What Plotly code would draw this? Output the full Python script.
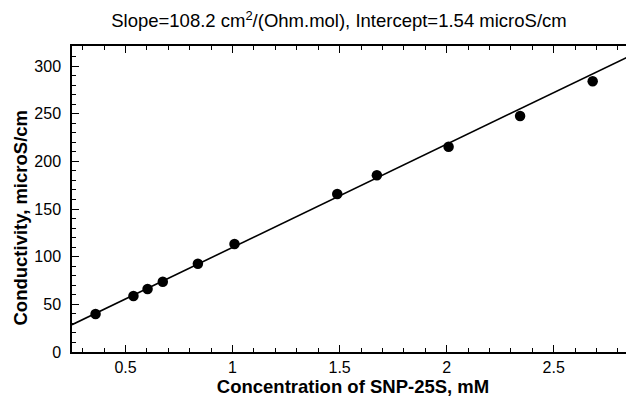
import plotly.graph_objects as go

concentration = [0.360, 0.537, 0.603, 0.674, 0.838, 1.009, 1.489, 1.674, 2.009, 2.343, 2.682]
conductivity = [39.9, 58.7, 66.1, 73.7, 92.6, 113.3, 165.7, 185.4, 215.4, 247.6, 284.0]
slope = 108.2
intercept = 1.54
x_range = [0.25, 2.875]
y_range = [0, 321]

fit_x = [x_range[0], x_range[1]]
fit_y = [intercept + slope * v for v in fit_x]

fig = go.Figure()
fig.add_trace(go.Scatter(x=fit_x, y=fit_y, mode="lines",
                         line=dict(color="black", width=1.6), showlegend=False))
fig.add_trace(go.Scatter(x=concentration, y=conductivity, mode="markers",
                         marker=dict(color="black", size=10.5), showlegend=False))

# page body has an 8px default margin, so the figure is sized/placed to compensate
W, H = 626, 394
font = "Liberation Sans, Arial, sans-serif"
fig.update_layout(
    width=W, height=H,
    margin=dict(l=64, r=0, t=38, b=50),
    paper_bgcolor="white", plot_bgcolor="white",
    font=dict(family=font, color="black", size=16),
    title=dict(text="Slope=108.2 cm<sup>2</sup>/(Ohm.mol), Intercept=1.54 microS/cm",
               x=0.475, xref="paper", y=1 - 13 / H, yref="container",
               xanchor="center", yanchor="middle",
               font=dict(family=font, size=18.5, color="black")),
)
fig.add_annotation(
    text="<b>Conductivity, microS/cm</b>", textangle=-90,
    xref="paper", yref="paper", x=0, y=0.4395, xshift=-51,
    xanchor="center", yanchor="middle", showarrow=False,
    font=dict(family=font, size=18.5, color="black"),
)
fig.update_xaxes(
    range=x_range, showgrid=False, zeroline=False, automargin=False,
    showline=True, linecolor="black", linewidth=1.5, mirror="ticks",
    ticks="inside", ticklen=7, tickwidth=1, tickcolor="black",
    tickvals=[0.5, 1, 1.5, 2, 2.5], ticktext=["0.5", "1", "1.5", "2", "2.5"],
    tickfont=dict(size=16),
    minor=dict(ticks="inside", ticklen=4, dtick=0.1, tickcolor="black", showgrid=False),
    title=dict(text="<b>Concentration of SNP-25S, mM</b>", font=dict(size=18.5), standoff=4),
)
fig.update_yaxes(
    range=y_range, showgrid=False, zeroline=False, automargin=False,
    showline=True, linecolor="black", linewidth=1.5, mirror=False,
    ticks="inside", ticklen=7, tickwidth=1, tickcolor="black",
    dtick=50, tick0=0, ticklabelstandoff=6,
    tickfont=dict(size=16),
    minor=dict(ticks="inside", ticklen=4, dtick=10, tickcolor="black", showgrid=False),
)
fig.write_html("out.html")
